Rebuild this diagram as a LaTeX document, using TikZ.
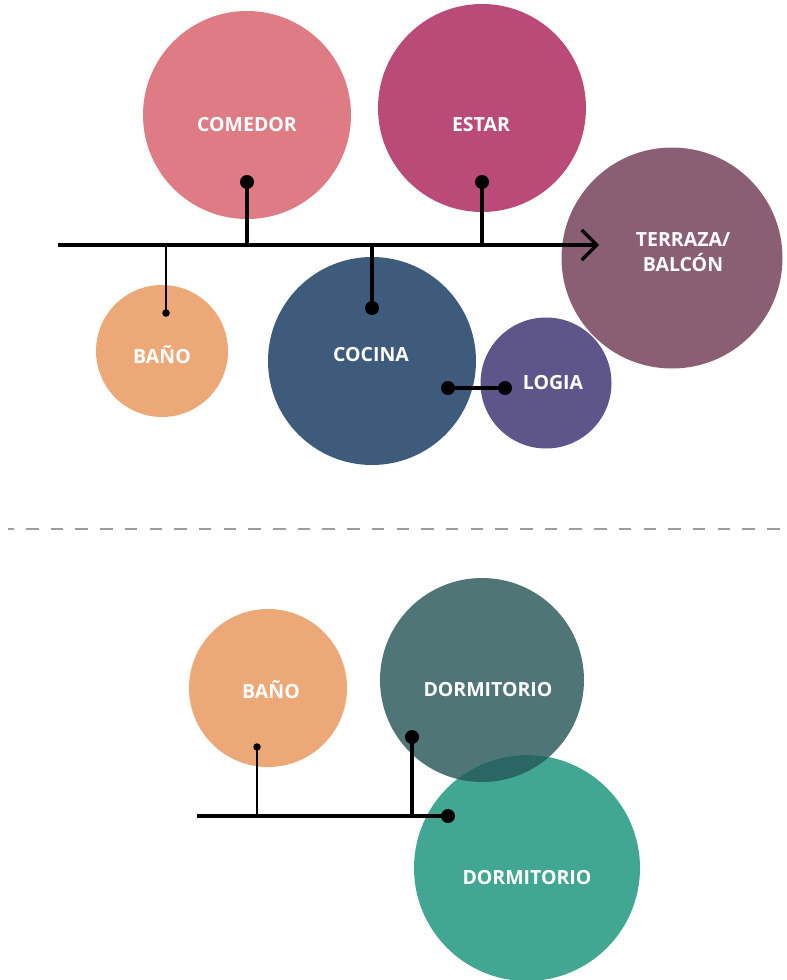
\documentclass[tikz,border=0pt]{standalone}
\usepackage{fontspec}
\setmainfont{Open Sans}
\usetikzlibrary{arrows.meta}
\definecolor{cComedor}{HTML}{DE7B84}
\definecolor{cEstar}{HTML}{BA4A78}
\definecolor{cTerraza}{HTML}{8A5F73}
\definecolor{cBano}{HTML}{EDA878}
\definecolor{cCocina}{HTML}{3E5B7B}
\definecolor{cLogia}{HTML}{5E558B}
\definecolor{cDormA}{HTML}{4F7577}
\definecolor{cDormB}{HTML}{41A692}
\definecolor{cOverlap}{HTML}{2A6664}
\definecolor{cDash}{HTML}{9C9C9C}
\tikzset{
  room/.style={circle, draw=none, inner sep=0pt},
  lbl/.style={text=white, font=\bfseries\fontsize{19.5}{25}\selectfont, align=center, inner sep=0pt},
  bigdot/.style={circle, fill=black, inner sep=0pt, minimum size=14pt},
  smalldot/.style={circle, fill=black, inner sep=0pt, minimum size=7.5pt},
  axisline/.style={line width=3.2pt},
  stem/.style={line width=3.2pt},
  thinstem/.style={line width=1.6pt},
}
\begin{document}
\begin{tikzpicture}[x=1pt,y=-1pt]
\useasboundingbox (0,0) rectangle (787,980);
% ---- top part circles
\node[room, fill=cComedor, minimum size=208pt] (comedor) at (247,115) {};
\node[room, fill=cEstar, minimum size=208pt] (estar) at (482,108) {};
\node[room, fill=cTerraza, minimum size=221pt] (terraza) at (672,258) {};
\node[room, fill=cBano, minimum size=132pt] (bano) at (162,351) {};
\node[room, fill=cCocina, minimum size=208pt] (cocina) at (372,361) {};
\node[room, fill=cLogia, minimum size=131pt] (logia) at (546,383) {};
% labels
\node[lbl] (tComedor) at (247,125) {COMEDOR};
\node[lbl] (tEstar) at (481,125) {ESTAR};
\node[lbl] (tTerraza) at (683,252) {TERRAZA/\\BALCÓN};
\node[lbl] (tBano) at (162,355) {BAÑO};
\node[lbl] (tCocina) at (371,355) {COCINA};
\node[lbl] (tLogia) at (553,383) {LOGIA};
% axis
\coordinate (axS) at (58,245);
\coordinate (axE) at (599,245);
\draw[axisline, -{Straight Barb[length=15pt,width=30pt,line width=3.2pt]}] (axS) -- (axE);
% dots and stems
\node[bigdot] (dComedor) at (247,182) {};
\node[bigdot] (dEstar) at (482,182) {};
\node[bigdot] (dCocina) at (372,308) {};
\node[smalldot] (dBano) at (166,313) {};
\node[bigdot] (dLogiaA) at (448,388) {};
\node[bigdot] (dLogiaB) at (505,388) {};
\draw[stem] (dComedor.center) -- (dComedor.center |- axS);
\draw[stem] (dEstar.center) -- (dEstar.center |- axS);
\draw[stem] (dCocina.center) -- (dCocina.center |- axS);
\draw[thinstem] (dBano.center) -- (dBano.center |- axS);
\draw[stem] (dLogiaA) -- (dLogiaB);
% ---- separator
\coordinate (sepS) at (8,529);
\coordinate (sepE) at (787,529);
\draw[cDash, line width=1.5pt, dash pattern=on 12.5pt off 12.2pt, dash phase=6.7pt] (sepS) -- (sepE);
% ---- bottom part
\node[room, fill=cBano, minimum size=158pt] (bano2) at (268,688) {};
\node[room, fill=cDormA, minimum size=204pt] (dormA) at (482,680) {};
\node[room, fill=cDormB, minimum size=226pt] (dormB) at (527,868) {};
\begin{scope}
  \clip (482,680) circle (102pt);
  \fill[cOverlap] (527,868) circle (113pt);
\end{scope}
\node[lbl] (tBano2) at (271,690) {BAÑO};
\node[lbl] (tDormA) at (488,690) {DORMITORIO};
\node[lbl] (tDormB) at (527,878) {DORMITORIO};
\coordinate (lowS) at (197,816);
\node[bigdot] (dDormB) at (448,816) {};
\node[bigdot] (dDormA) at (412,737) {};
\node[smalldot] (dBano2) at (257,747) {};
\draw[stem] (lowS) -- (dDormB.center);
\draw[stem] (dDormA.center) -- (dDormA.center |- lowS);
\draw[thinstem] (dBano2.center) -- (dBano2.center |- lowS);
\end{tikzpicture}
\end{document}
